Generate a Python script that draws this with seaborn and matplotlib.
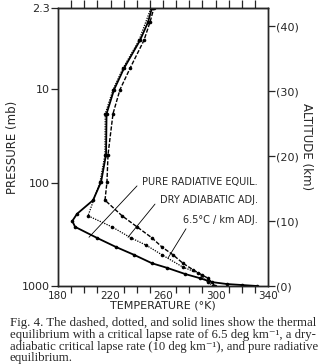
import numpy as np
import pandas as pd
import matplotlib
matplotlib.use("Agg")
import matplotlib.pyplot as plt
import seaborn as sns

# ---- data (temperature K, altitude km) ----
rad_T = [331.6, 320.2, 308.8, 297.3, 288.2, 276.8, 263.0, 251.6, 237.9, 224.2, 209.7, 193.0, 190.9,
         194.5, 206.7, 212.8, 216.6, 217.0, 222.7, 230.3, 242.5, 248.6, 251.6]
rad_z = [0.0, 0.15, 0.3, 0.6, 1.2, 1.85, 2.8, 3.5, 4.8, 6.0, 7.4, 9.1, 10.0,
         11.1, 13.2, 16.0, 20.2, 26.5, 30.2, 33.5, 37.8, 40.6, 42.8]

dry_T = [298.1, 294.3, 286.7, 275.2, 259.2, 247.0, 235.6, 221.1, 202.9, 212.0, 215.8, 216.0,
         221.9, 229.5, 241.7, 250.9]
dry_z = [0.0, 0.6, 2.0, 2.9, 4.8, 6.3, 7.4, 9.1, 10.8, 16.0, 20.2, 26.5,
         30.2, 33.5, 37.8, 42.8]

moist_T = [299.6, 294.3, 289.7, 282.9, 275.2, 267.6, 259.2, 251.6, 240.2, 228.8, 215.8, 217.3,
           218.1, 221.9, 227.2, 234.9, 245.5, 250.1, 253.1]
moist_z = [0.0, 1.2, 1.7, 2.5, 3.5, 4.8, 6.0, 7.4, 9.1, 10.8, 13.2, 16.0,
           20.2, 26.5, 30.2, 33.5, 37.8, 40.6, 42.8]

pressure_labels = ["1000", "100", "10", "2.3"]
pressure_alt = [0.0, 15.85, 30.3, 42.77]
alt_ticks = [0, 10, 20, 30, 40]
alt_labels = ["(0)", "(10)", "(20)", "(30)", "(40)"]
temp_major = [180, 220, 260, 300, 340]

labels = ["PURE RADIATIVE EQUIL.", "DRY ADIABATIC ADJ.", "6.5\u00b0C / km ADJ."]

caption = ["Fig. 4. The dashed, dotted, and solid lines show the thermal",
           "equilibrium with a critical lapse rate of 6.5 deg km\u207b\u00b9, a dry-",
           "adiabatic critical lapse rate (10 deg km\u207b\u00b9), and pure radiative",
           "equilibrium."]

sns.set_style("ticks")
plt.rcParams['font.family'] = ['DejaVu Sans']

fig = plt.figure(figsize=(3.22, 3.64), dpi=100)
ax = fig.add_axes([58/322, 1-286/364, 210/322, 278/364])

df_rad = pd.DataFrame({"T": rad_T, "z": rad_z})
df_dry = pd.DataFrame({"T": dry_T, "z": dry_z})
df_moist = pd.DataFrame({"T": moist_T, "z": moist_z})

sns.lineplot(data=df_rad, x="T", y="z", sort=False, estimator=None, ax=ax,
             color="black", lw=1.3, marker="o", markersize=2.6, markeredgewidth=0)
sns.lineplot(data=df_dry, x="T", y="z", sort=False, estimator=None, ax=ax,
             color="black", lw=0.9, linestyle=(0, (1, 1)), marker="o", markersize=2.6, markeredgewidth=0)
sns.lineplot(data=df_moist, x="T", y="z", sort=False, estimator=None, ax=ax,
             color="black", lw=1.0, linestyle=(0, (3, 1.2)), marker="o", markersize=2.6, markeredgewidth=0)

ax.set_xlim(180, 340)
ax.set_ylim(0, 42.77)

for s in ax.spines.values():
    s.set_linewidth(1.0)
    s.set_color("black")

ax.set_xticks(temp_major)
ax.set_xticklabels([str(t) for t in temp_major], fontsize=7.5)
ax.set_xticks(np.arange(190, 340, 10), minor=True)
ax.tick_params(axis="x", which="major", direction="out", length=0, pad=3.5,
               top=False, bottom=True)
ax.tick_params(axis="x", which="minor", direction="out", length=5, width=0.9)

top = ax.secondary_xaxis("top")
top.set_xticks(np.arange(190, 340, 10))
top.set_xticklabels([])
top.tick_params(direction="out", length=6, width=0.9)

ax.set_yticks(pressure_alt)
ax.set_yticklabels(pressure_labels, fontsize=8)
ax.tick_params(axis="y", direction="out", length=5, width=0.9, pad=1)

ax2 = ax.twinx()
ax2.set_ylim(0, 42.77)
ax2.set_yticks(alt_ticks)
ax2.set_yticklabels(alt_labels, fontsize=8)
ax2.tick_params(axis="y", direction="out", length=5, width=0.9, pad=1)
for s in ax2.spines.values():
    s.set_linewidth(1.0)

ax.set_xlabel("TEMPERATURE (\u00b0K)", fontsize=8, labelpad=0)
ax.set_ylabel("PRESSURE (mb)", fontsize=8.5, labelpad=2)
ax2.set_ylabel("ALTITUDE (km)", fontsize=8.5, rotation=270, labelpad=10)

# annotations
ax.text(332.4, 16.0, labels[0], fontsize=7.0, ha="right", va="center")
ax.text(332.4, 13.2, labels[1], fontsize=7.0, ha="right", va="center")
ax.text(332.4, 10.2, labels[2], fontsize=7.0, ha="right", va="center")
ax.plot([240.2, 203.6], [15.4, 7.5], color="black", lw=0.6)
ax.plot([253.9, 233.3], [12.6, 7.5], color="black", lw=0.6)
ax.plot([277.5, 263.8], [8.8, 4.3], color="black", lw=0.6)

# caption, lines 1-3 fitted to full width
ys = [323, 335, 347, 358]
fig.canvas.draw()
renderer = fig.canvas.get_renderer()
target_w = 306
base = 8.0
sizes = []
for i, (line, y) in enumerate(zip(caption, ys)):
    t = fig.text(10/322, 1 - y/364, line, fontsize=base,
                 family=["Liberation Serif", "DejaVu Serif"], ha="left", va="center")
    if i < 3:
        w = t.get_window_extent(renderer).width
        t.set_fontsize(base * target_w / w)
        sizes.append(base * target_w / w)
    else:
        t.set_fontsize(sizes[0])

fig.savefig("out.png", dpi=100)
